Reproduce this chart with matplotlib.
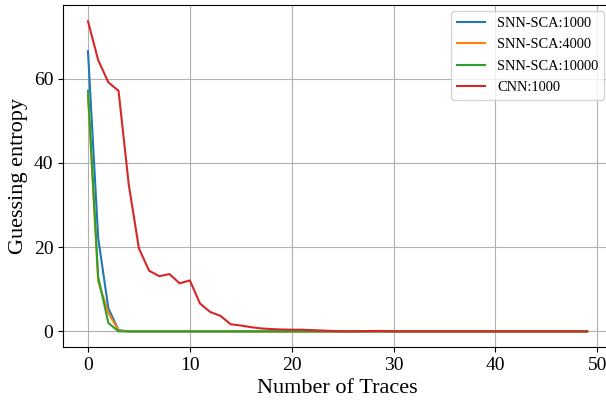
import numpy as np
import matplotlib
matplotlib.use('Agg')
import matplotlib.pyplot as plt

plt.rcParams['font.family'] = ['Liberation Serif', 'DejaVu Serif']

traces = list(range(50))
snn_1000 = [66.5, 22.2, 5.5, 0.3] + [0.0] * 46
snn_4000 = [56.0, 11.9, 4.4, 0.2] + [0.0] * 46
snn_10000 = [57.1, 12.9, 2.0, 0.0] + [0.0] * 46
cnn_1000 = [73.6, 64.4, 59.1, 57.1, 34.9, 19.7, 14.4, 13.1, 13.6, 11.4,
            12.1, 6.6, 4.6, 3.7, 1.7, 1.4, 1.0, 0.7, 0.55, 0.45,
            0.4, 0.4, 0.3, 0.2, 0.1, 0.0, 0.0, 0.05, 0.1, 0.1,
            0.0, 0.0, 0.0, 0.0, 0.0, 0.0, 0.0, 0.0, 0.0, 0.0,
            0.0, 0.0, 0.0, 0.0, 0.0, 0.0, 0.0, 0.0, 0.0, 0.0]
labels = ['SNN-SCA:1000', 'SNN-SCA:4000', 'SNN-SCA:10000', 'CNN:1000']

fig = plt.figure(figsize=(6.06, 4.03), dpi=100)
ax = fig.add_axes([0.104, 0.139, 0.906, 0.849])

for series, lab in zip([snn_1000, snn_4000, snn_10000, cnn_1000], labels):
    ax.plot(traces, series, label=lab, linewidth=1.5)

ax.set_xlim(-2.45, 51.45)
ax.set_ylim(-3.7, 77.5)
ax.set_xticks([0, 10, 20, 30, 40, 50])
ax.set_yticks([0, 20, 40, 60])
ax.grid(True, color='#b0b0b0', linewidth=0.8)
ax.tick_params(labelsize=14)
ax.set_xlabel('Number of Traces', fontsize=16)
ax.set_ylabel('Guessing entropy', fontsize=16)
ax.legend(loc='upper right', bbox_to_anchor=(604 / 606, 1 - 11 / 403),
          bbox_transform=fig.transFigure, borderaxespad=0, fontsize=10.4,
          labelspacing=0.58)

fig.savefig('out.png', dpi=100)
